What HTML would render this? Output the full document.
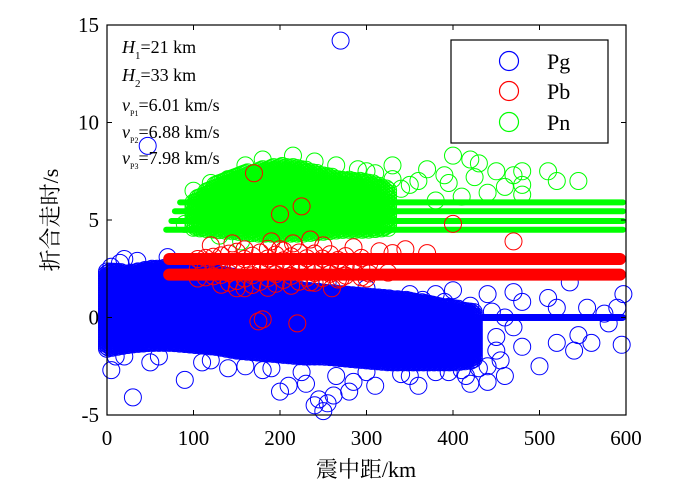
<!DOCTYPE html>
<html><head><meta charset="utf-8">
<style>
html,body{margin:0;padding:0;background:#fff;}
svg{display:block;}
text{font-family:"Liberation Serif","Noto Serif CJK SC",serif;fill:#000;}
</style></head>
<body>
<svg id="chart" width="700" height="490" viewBox="0 0 700 490">
  <g id="marks"></g>
  <rect x="107" y="25" width="519" height="390" fill="none" stroke="#000" stroke-width="1.2"/>
  <g id="ticks"></g>
  <g font-size="18">
    <text x="122" y="53"><tspan font-style="italic">H</tspan><tspan font-size="11" dy="6">1</tspan><tspan dy="-6">=21 km</tspan></text>
    <text x="122" y="81"><tspan font-style="italic">H</tspan><tspan font-size="11" dy="6">2</tspan><tspan dy="-6">=33 km</tspan></text>
    <text x="122" y="111"><tspan font-style="italic">v</tspan><tspan font-size="8" dy="5">P1</tspan><tspan dy="-5">=6.01 km/s</tspan></text>
    <text x="122" y="138"><tspan font-style="italic">v</tspan><tspan font-size="8" dy="5">P2</tspan><tspan dy="-5">=6.88 km/s</tspan></text>
    <text x="122" y="164"><tspan font-style="italic">v</tspan><tspan font-size="8" dy="5">P3</tspan><tspan dy="-5">=7.98 km/s</tspan></text>
  </g>
  <g>
    <rect x="451" y="40" width="157" height="103" fill="#fff" stroke="#000" stroke-width="1.2"/>
    <circle cx="509" cy="61" r="9.5" fill="none" stroke="#0000ff" stroke-width="1.2"/>
    <text x="547" y="69" font-size="22">Pg</text>
    <circle cx="509" cy="91" r="9.5" fill="none" stroke="#ff0000" stroke-width="1.2"/>
    <text x="547" y="99" font-size="22">Pb</text>
    <circle cx="509" cy="122" r="9.5" fill="none" stroke="#00ff00" stroke-width="1.2"/>
    <text x="547" y="130" font-size="22">Pn</text>
  </g>
  <text x="366" y="477" font-size="22" text-anchor="middle">震中距/km</text>
  <text transform="translate(58,220) rotate(-90)" font-size="22" text-anchor="middle">折合走时/s</text>
</svg>
<script>
const xTicks = [0,100,200,300,400,500,600];
const yTicks = [-5,0,5,10,15];
// bands: [x km, lowest y, highest y]
const pgBand = [[0,-1.6,2.4],[25,-1.4,2.3],[50,-1.3,2.5],[75,-1.3,2.6],[100,-1.4,2.5],[125,-1.5,2.3],[150,-1.7,2.1],[175,-1.8,1.8],[200,-1.9,1.6],[225,-2.0,1.4],[250,-2.0,1.3],[275,-2.1,1.2],[300,-2.2,1.1],[325,-2.3,1.0],[350,-2.3,0.9],[375,-2.3,0.7],[400,-2.3,0.5],[425,-2.2,0.3]];
const pbBand = [[105,2.0,3.4],[130,1.7,3.5],[155,1.5,3.5],[180,1.5,3.6],[205,1.6,3.5],[230,1.7,3.4],[255,1.9,3.3],[280,2.0,3.2],[305,2.1,3.1]];
const pnBand = [[100,4.6,6.0],[125,4.5,6.8],[150,4.4,7.3],[175,4.3,7.6],[200,4.3,7.8],[225,4.3,7.7],[250,4.4,7.3],[275,4.5,7.1],[300,4.5,7.0],[325,4.6,6.6]];
// model lines: [y, start km, end km]
const pgLines = [[0.0,430,600]];
const pbLines = [[3.0,65,600],[2.2,65,600]];
const pnLines = [[5.9,81,600],[5.45,75,600],[4.95,71,600],[4.5,65,600]];
const pgX = [270,47,30,250,255,240,210,90,5,20,50,110,310,350,420,440,460,500,520,540,560,580,595,597,575,555,520,510,480,470,450,450,480,400,440,380,360,280,230,200,180,140,470,535,545,590,460,330,300,255,20,5,262,245,285,395,430,455,415,10,60,120,160,190,225,265,300,340,380,410,440,15,35,70,350,365,390,420,445];
const pgY = [14.2,8.8,-4.1,-4.8,-4.4,-4.5,-3.5,-3.2,-2.7,-2.0,-2.3,-2.3,-3.5,-3.0,-3.4,-3.3,-3.0,-2.5,-1.3,-1.7,-1.3,-0.3,-1.4,1.2,0.2,0.5,0.5,1.0,0.8,-0.5,-1.0,-1.7,-1.5,1.4,1.2,1.2,-3.5,-3.8,-3.4,-3.8,-2.7,-2.6,1.3,1.8,-0.9,0.5,0.0,0.8,1.5,1.8,3.0,2.6,-4.0,-4.2,-3.3,-2.8,-2.6,-2.2,-3.0,-2.0,-2.0,-2.2,-2.5,-2.6,-2.8,-3.0,-2.8,-2.9,-2.8,-2.7,-2.5,2.8,2.9,3.1,1.2,0.9,0.8,0.6,0.3];
const pbX = [400,470,370,330,345,260,235,180,175,220,200,170,225,200,235,270,300,150,130,110,120,145,190,215,250,285,315,325];
const pbY = [4.8,3.9,3.3,3.3,3.5,1.5,1.8,-0.1,-0.2,-0.3,3.5,7.4,5.7,5.3,4.0,2.0,2.0,1.5,2.5,2.8,3.7,3.8,3.9,3.8,3.7,3.6,3.4,2.3];
const pnX = [360,400,390,420,430,460,470,480,480,510,520,545,440,410,350,380,330,300,370,450,480,100,90,130,155,340,395,425,160,180,215,240,265,290,310,330,140,120];
const pnY = [7.0,8.3,7.3,8.1,7.9,6.7,7.3,7.5,6.8,7.5,7.0,7.0,6.4,6.2,6.8,6.0,7.8,7.5,7.6,7.5,6.3,6.5,4.8,4.2,3.9,6.6,6.9,7.2,7.8,8.1,8.3,8.0,7.8,7.6,7.4,7.1,7.1,6.9];

const X0=107,X1=626,Y0=415,Y1=25;
const sx = v => X0 + (v-0)/600*(X1-X0);
const sy = v => Y0 - (v+5)/20*(Y0-Y1);
const NS='http://www.w3.org/2000/svg';
const marks=document.getElementById('marks');
const R=8.5;

function circ(g,x,y,col){
  const c=document.createElementNS(NS,'circle');
  c.setAttribute('cx',sx(x).toFixed(1));c.setAttribute('cy',sy(y).toFixed(1));
  c.setAttribute('r',R);c.setAttribute('fill','none');c.setAttribute('stroke',col);c.setAttribute('stroke-width','1');
  
  
  g.appendChild(c);
}
function bandAt(band,x){
  for(let i=0;i<band.length-1;i++){
    if(x>=band[i][0]&&x<=band[i+1][0]){
      const t=(x-band[i][0])/(band[i+1][0]-band[i][0]);
      return [band[i][1]+t*(band[i+1][1]-band[i][1]),band[i][2]+t*(band[i+1][2]-band[i][2])];
    }
  }
  return null;
}
function drawBand(g,band,col,dxKm,dyV){
  const xa=band[0][0],xb=band[band.length-1][0];
  let row=0;
  for(let x=xa;x<=xb;x+=dxKm){
    const b=bandAt(band,x); if(!b) continue;
    const off=((row++)%3)*dyV/3;
    for(let y=b[0]+off;y<=b[1];y+=dyV) circ(g,x,y,col);
  }
}
function drawLines(g,lines,col,th,name){
  lines.forEach(l=>{
    const r=document.createElementNS(NS,'rect');
    r.setAttribute('x',sx(l[1]).toFixed(1));r.setAttribute('y',(sy(l[0])-th/2).toFixed(1));
    r.setAttribute('width',(sx(l[2])-sx(l[1])).toFixed(1));r.setAttribute('height',th);
    r.setAttribute('rx',th/2);r.setAttribute('fill',col);
    
    
    g.appendChild(r);
  });
}
function group(name){
  const g=document.createElementNS(NS,'g');
  
  
  marks.appendChild(g);return g;
}
const gPn=group('series-pn');
drawBand(gPn,pnBand,'#00ff00',2.5,0.16);
drawLines(gPn,pnLines,'#00ff00',6,'pn-model-line');
pnX.forEach((x,i)=>circ(gPn,x,pnY[i],'#00ff00'));
const gPg=group('series-pg');
drawBand(gPg,pgBand,'#0000ff',2,0.12);
drawLines(gPg,pgLines,'#0000ff',7,'pg-model-line');
pgX.forEach((x,i)=>circ(gPg,x,pgY[i],'#0000ff'));
const gPb=group('series-pb');
drawBand(gPb,pbBand,'#ff0000',9,0.5);
drawLines(gPb,pbLines,'#ff0000',12,'pb-model-line');
pbX.forEach((x,i)=>circ(gPb,x,pbY[i],'#ff0000'));

const tg=document.getElementById('ticks');
function line(x1,y1,x2,y2){
  const l=document.createElementNS(NS,'line');
  l.setAttribute('x1',x1);l.setAttribute('y1',y1);l.setAttribute('x2',x2);l.setAttribute('y2',y2);
  l.setAttribute('stroke','#000');l.setAttribute('stroke-width','1');
  
  
  tg.appendChild(l);
}
function label(x,y,s,anchor,name){
  const t=document.createElementNS(NS,'text');
  t.setAttribute('x',x);t.setAttribute('y',y);t.setAttribute('font-size','21');t.setAttribute('text-anchor',anchor);
  t.textContent=s;
  
  
  tg.appendChild(t);
}
xTicks.forEach(v=>{
  const x=sx(v);
  line(x,Y0,x,Y0-5);line(x,Y1,x,Y1+5);
  label(x,445,String(v),'middle','x-tick-label');
});
yTicks.forEach(v=>{
  const y=sy(v);
  line(X0,y,X0+5,y);line(X1,y,X1-5,y);
  label(X0-8,y+7,String(v),'end','y-tick-label');
});
</script>
</body></html>
